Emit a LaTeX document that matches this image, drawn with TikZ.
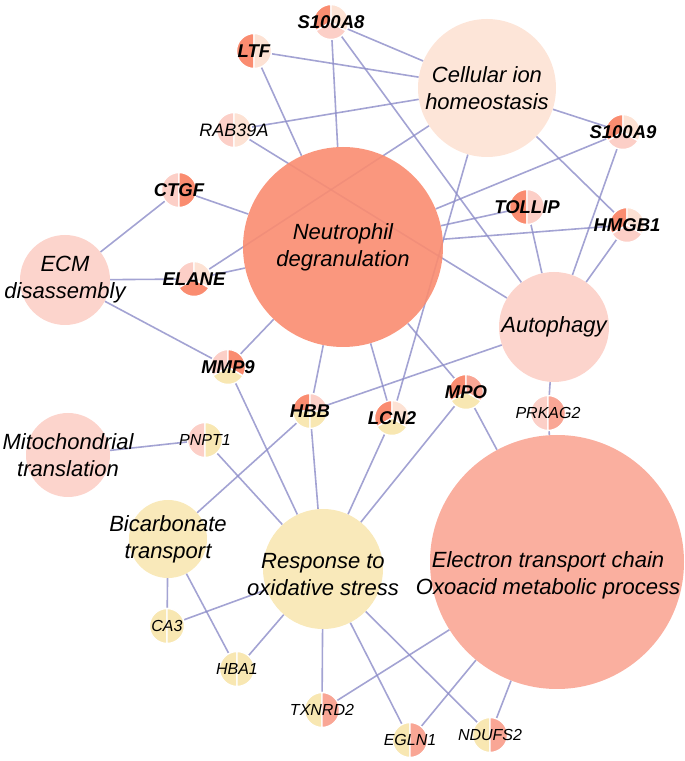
\documentclass[tikz,border=0pt]{standalone}
\usepackage{fontspec}
\setmainfont{Liberation Sans}
\usetikzlibrary{positioning}
\definecolor{neutcol}{RGB}{250,140,112}
\definecolor{ioncol}{RGB}{253,226,212}
\definecolor{pinkcol}{RGB}{252,207,199}
\definecolor{etccol}{RGB}{249,166,149}
\definecolor{yelcol}{RGB}{248,231,178}
\definecolor{edgecol}{RGB}{140,140,200}
\pgfdeclarelayer{background}
\pgfsetlayers{background,main}
\tikzset{
  termtext/.style={align=center, inner sep=0pt,
    font=\fontsize{22}{27}\selectfont\itshape},
  term/.style={circle, inner sep=0pt, fill opacity=0.9,
    label={[termtext]center:{#1}}},
  genetext/.style={inner sep=0pt, font=\fontsize{18.5}{20}\selectfont\bfseries\itshape},
  minortext/.style={inner sep=0pt, font=\fontsize{16}{18}\selectfont\itshape},
  gene/.style={circle, inner sep=0pt, minimum size=34pt,
    label={[genetext]center:{#1}}},
  minor/.style={circle, inner sep=0pt, minimum size=34pt,
    label={[minortext]center:{#1}}},
  link/.style={draw=edgecol, line width=1.6pt, draw opacity=0.8},
}
% one slice of a gene pie: centre, from, to, colour
\newcommand{\geneslice}[4]{%
  \filldraw[fill=#4, draw=white, line width=1.4pt]
    (#1) -- ++(#2:17.5pt) arc[start angle=#2, end angle=#3, radius=17.5pt] -- cycle;}

\begin{document}
\begin{tikzpicture}[x=1pt, y=1pt]
    \useasboundingbox (0,0) rectangle (685,761);

    %terms
    \node[term={Neutrophil\\degranulation}, fill=neutcol, minimum size=200pt] (neut) at (343,514) {};
    \node[term={Cellular ion\\homeostasis}, fill=ioncol, minimum size=138pt] (ion) at (487,673) {};
    \node[term={ECM\\disassembly}, fill=pinkcol, minimum size=90pt] (ecm) at (65,481) {};
    \node[term={Autophagy}, fill=pinkcol, minimum size=110pt] (auto) at (554,434) {};
    \node[term={Mitochondrial\\translation}, fill=pinkcol, minimum size=84pt] (mito) at (68,306) {};
    \node[term={Bicarbonate\\transport}, fill=yelcol, minimum size=78pt] (bicarb) at (168,222) {};
    \node[circle, inner sep=0pt, fill opacity=0.9, fill=yelcol, minimum size=120pt,
      label={[termtext, yshift=-6pt]center:{Response to\\oxidative stress}}] (resp) at (323,192) {};
    \node[circle, inner sep=0pt, fill opacity=0.9, fill=etccol, minimum size=254pt,
      label={[termtext, yshift=-13pt, xshift=-9pt]center:{Electron transport chain\\Oxoacid metabolic process}}] (etc) at (557,199) {};

    %upper genes
    \geneslice{331,739}{90}{210}{neutcol}
    \geneslice{331,739}{210}{330}{pinkcol}
    \geneslice{331,739}{330}{450}{ioncol}
    \node[gene=S100A8] (s100a8) at (331,739) {};

    \geneslice{254,710}{90}{270}{neutcol}
    \geneslice{254,710}{270}{450}{ioncol}
    \node[gene=LTF] (ltf) at (254,710) {};

    \geneslice{234,631}{90}{270}{pinkcol}
    \geneslice{234,631}{270}{450}{ioncol}
    \node[circle, inner sep=0pt, minimum size=34pt,
      label={[minortext, font=\fontsize{18}{20}\selectfont\itshape]center:RAB39A}] (rab39a) at (234,631) {};

    \geneslice{623,629}{90}{210}{neutcol}
    \geneslice{623,629}{210}{330}{pinkcol}
    \geneslice{623,629}{330}{450}{ioncol}
    \node[gene=S100A9] (s100a9) at (623,629) {};

    \geneslice{527,554}{90}{270}{neutcol}
    \geneslice{527,554}{270}{450}{pinkcol}
    \node[gene=TOLLIP] (tollip) at (527,554) {};

    \geneslice{627,536}{90}{210}{neutcol}
    \geneslice{627,536}{210}{330}{pinkcol}
    \geneslice{627,536}{330}{450}{ioncol}
    \node[gene=HMGB1] (hmgb1) at (627,536) {};

    %left genes
    \geneslice{179,571}{90}{270}{pinkcol}
    \geneslice{179,571}{270}{450}{neutcol}
    \node[gene=CTGF] (ctgf) at (179,571) {};

    \geneslice{194,482}{90}{210}{pinkcol}
    \geneslice{194,482}{210}{330}{neutcol}
    \geneslice{194,482}{330}{450}{ioncol}
    \node[gene=ELANE] (elane) at (194,482) {};

    \geneslice{228,394}{90}{210}{pinkcol}
    \geneslice{228,394}{210}{330}{yelcol}
    \geneslice{228,394}{330}{450}{neutcol}
    \node[gene=MMP9] (mmp9) at (228,394) {};

    %middle genes
    \geneslice{310,350}{90}{180}{neutcol}
    \geneslice{310,350}{180}{270}{yelcol}
    \geneslice{310,350}{270}{360}{yelcol}
    \geneslice{310,350}{0}{90}{pinkcol}
    \node[gene=HBB] (hbb) at (310,350) {};

    \geneslice{392,343}{90}{210}{neutcol}
    \geneslice{392,343}{210}{330}{yelcol}
    \geneslice{392,343}{330}{450}{ioncol}
    \node[gene=LCN2] (lcn2) at (392,343) {};

    \geneslice{466,369}{90}{210}{neutcol}
    \geneslice{466,369}{210}{330}{yelcol}
    \geneslice{466,369}{330}{450}{etccol}
    \node[gene=MPO] (mpo) at (466,369) {};

    \geneslice{205,321}{90}{270}{pinkcol}
    \geneslice{205,321}{270}{450}{yelcol}
    \node[minor=PNPT1] (pnpt1) at (205,321) {};

    \geneslice{548,348}{90}{270}{pinkcol}
    \geneslice{548,348}{270}{450}{etccol}
    \node[minor=PRKAG2] (prkag2) at (548,348) {};

    %lower genes
    \geneslice{167,135}{90}{270}{yelcol}
    \geneslice{167,135}{270}{450}{yelcol}
    \node[minor=CA3] (ca3) at (167,135) {};

    \geneslice{237,92}{90}{270}{yelcol}
    \geneslice{237,92}{270}{450}{yelcol}
    \node[minor=HBA1] (hba1) at (237,92) {};

    \geneslice{322,51}{90}{270}{yelcol}
    \geneslice{322,51}{270}{450}{etccol}
    \node[minor=TXNRD2] (txnrd2) at (322,51) {};

    \geneslice{410,21}{90}{270}{yelcol}
    \geneslice{410,21}{270}{450}{etccol}
    \node[minor=EGLN1] (egln1) at (410,21) {};

    \geneslice{490,26}{90}{270}{yelcol}
    \geneslice{490,26}{270}{450}{etccol}
    \node[minor=NDUFS2] (ndufs2) at (490,26) {};

    %connections
    \begin{pgfonlayer}{background}
    \path[link] (s100a8) -- (neut) (s100a8) -- (ion) (s100a8) -- (auto);
    \path[link] (ltf) -- (neut) (ltf) -- (ion);
    \path[link] (rab39a) -- (ion) (rab39a) -- (auto);
    \path[link] (s100a9) -- (neut) (s100a9) -- (ion) (s100a9) -- (auto);
    \path[link] (tollip) -- (neut) (tollip) -- (auto);
    \path[link] (hmgb1) -- (neut) (hmgb1) -- (ion) (hmgb1) -- (auto);
    \path[link] (ctgf) -- (ecm) (ctgf) -- (neut);
    \path[link] (elane) -- (ecm) (elane) -- (neut) (elane) -- (ion);
    \path[link] (mmp9) -- (ecm) (mmp9) -- (neut) (mmp9) -- (resp);
    \path[link] (hbb) -- (neut) (hbb) -- (auto) (hbb) -- (bicarb) (hbb) -- (resp);
    \path[link] (lcn2) -- (neut) (lcn2) -- (ion) (lcn2) -- (resp);
    \path[link] (mpo) -- (neut) (mpo) -- (etc) (mpo) -- (resp);
    \path[link] (pnpt1) -- (mito) (pnpt1) -- (resp);
    \path[link] (prkag2) -- (auto) (prkag2) -- (etc);
    \path[link] (ca3) -- (bicarb) (ca3) -- (resp);
    \path[link] (hba1) -- (bicarb) (hba1) -- (resp);
    \path[link] (txnrd2) -- (resp) (txnrd2) -- (etc);
    \path[link] (egln1) -- (resp) (egln1) -- (etc);
    \path[link] (ndufs2) -- (resp) (ndufs2) -- (etc);
    \end{pgfonlayer}
\end{tikzpicture}
\end{document}
